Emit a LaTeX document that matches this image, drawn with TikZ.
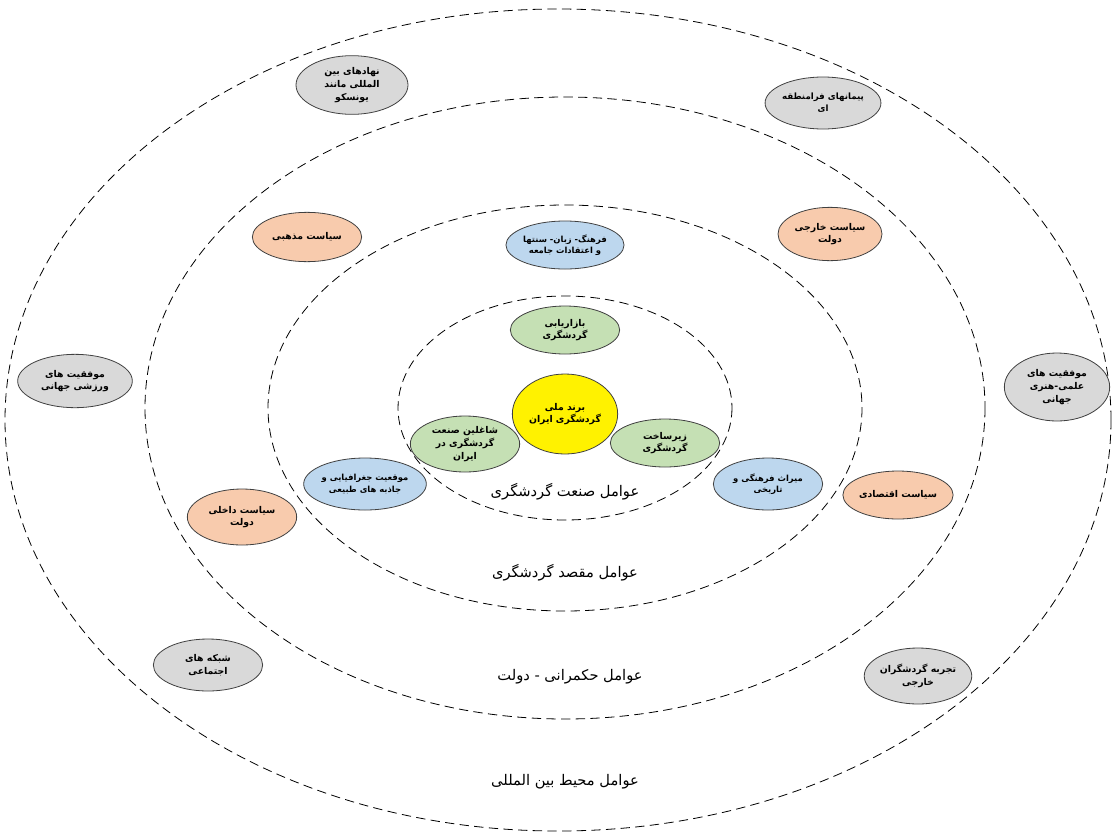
\documentclass[tikz,border=0pt]{standalone}
\usepackage{fontspec}
\newfontfamily\arabicfont[Script=Arabic]{DejaVu Sans}
\TeXXeTstate=1
\usetikzlibrary{shapes.geometric,positioning}
\definecolor{nodeGray}{HTML}{D9D9D9}
\definecolor{nodeOrange}{HTML}{F8CBAD}
\definecolor{nodeBlue}{HTML}{BDD7EE}
\definecolor{nodeGreen}{HTML}{C5E0B4}
\newcommand{\fa}[1]{\beginR #1\endR}

\begin{document}
\begin{tikzpicture}[x=0.75pt, y=-0.75pt,
    every node/.style={align=center},
    vertex/.style={draw=black!75, shape=ellipse, line width=0.6pt, inner sep=0pt, font=\arabicfont\bfseries\fontsize{7}{9.5}\selectfont},
    grayVertex/.style={vertex, fill=nodeGray},
    orangeVertex/.style={vertex, fill=nodeOrange},
    blueVertex/.style={vertex, fill=nodeBlue, font=\arabicfont\bfseries\fontsize{6.3}{8.5}\selectfont},
    greenVertex/.style={vertex, fill=nodeGreen},
    yellowVertex/.style={vertex, fill=yellow},
    ring/.style={draw, line width=0.6pt, dash pattern=on 7pt off 4pt},
    ringlabel/.style={font=\arabicfont\fontsize{11}{13}\selectfont}
  ]
  \useasboundingbox (0,0) rectangle (1113,832);

  % rings
  \coordinate (R0) at (565,408);
  \draw[ring] (R0) ellipse [x radius=167, y radius=112];
  \draw[ring] (R0) ellipse [x radius=297, y radius=203];
  \draw[ring] (R0) ellipse [x radius=420, y radius=311];
  \draw[ring] (558,420) ellipse [x radius=553, y radius=411];

  % ring labels
  \node[ringlabel] (L1) at (565,492) {\fa{عوامل صنعت گردشگری}};
  \node[ringlabel] (L2) at (565,573) {\fa{عوامل مقصد گردشگری}};
  \node[ringlabel] (L3) at (570,677) {\fa{عوامل حکمرانی - دولت}};
  \node[ringlabel] (L4) at (565,782) {\fa{عوامل محیط بین المللی}};

  % core
  \node[yellowVertex, minimum width=79pt, minimum height=60pt] (Y0) at (565,414) {\fa{برند ملی}\\\fa{گردشگری ایران}};

  % tourism industry
  \node[greenVertex, minimum width=82pt, minimum height=36pt] (G1) at (565,330) {\fa{بازاریابی}\\\fa{گردشگری}};
  \node[greenVertex, minimum width=82pt, minimum height=42pt] (G2) at (465,444) {\fa{شاغلین صنعت}\\\fa{گردشگری در}\\\fa{ایران}};
  \node[greenVertex, minimum width=82pt, minimum height=36pt] (G3) at (665,443) {\fa{زیرساخت}\\\fa{گردشگری}};

  % destination
  \node[blueVertex, minimum width=82pt, minimum height=36pt] (B1) at (565,245) {\fa{فرهنگ- زبان- سنتها}\\\fa{و اعتقادات جامعه}};
  \node[blueVertex, minimum width=82pt, minimum height=39pt] (B2) at (365,484) {\fa{موقعیت جغرافیایی و}\\\fa{جاذبه های طبیعی}};
  \node[blueVertex, minimum width=82pt, minimum height=39pt] (B3) at (768,484) {\fa{میراث فرهنگی و}\\\fa{تاریخی}};

  % governance
  \node[orangeVertex, minimum width=82pt, minimum height=37pt] (O1) at (307,237) {\fa{سیاست مذهبی}};
  \node[orangeVertex, minimum width=78pt, minimum height=40pt] (O2) at (830,234) {\fa{سیاست خارجی}\\\fa{دولت}};
  \node[orangeVertex, minimum width=82pt, minimum height=42pt] (O3) at (242,517) {\fa{سیاست داخلی}\\\fa{دولت}};
  \node[orangeVertex, minimum width=71pt, minimum height=36pt] (O4) at (898,495) {\fa{سیاست اقتصادی}};

  % international environment
  \node[grayVertex, minimum width=84pt, minimum height=44pt] (W1) at (352,85) {\fa{نهادهای بین}\\\fa{المللی مانند}\\\fa{یونسکو}};
  \node[grayVertex, minimum width=82pt, minimum height=39pt, font=\arabicfont\bfseries\fontsize{6.5}{9}\selectfont] (W2) at (823,103) {\fa{پیمانهای فرامنطقه}\\\fa{ای}};
  \node[grayVertex, minimum width=86pt, minimum height=40pt] (W3) at (75,381) {\fa{موفقیت های}\\\fa{ورزشی جهانی}};
  \node[grayVertex, minimum width=79pt, minimum height=51pt] (W4) at (1057,387) {\fa{موفقیت های}\\\fa{علمی-هنری}\\\fa{جهانی}};
  \node[grayVertex, minimum width=82pt, minimum height=39pt] (W5) at (208,665) {\fa{شبکه های}\\\fa{اجتماعی}};
  \node[grayVertex, minimum width=79pt, minimum height=42pt] (W6) at (918,676) {\fa{تجربه گردشگران}\\\fa{خارجی}};
\end{tikzpicture}
\end{document}
